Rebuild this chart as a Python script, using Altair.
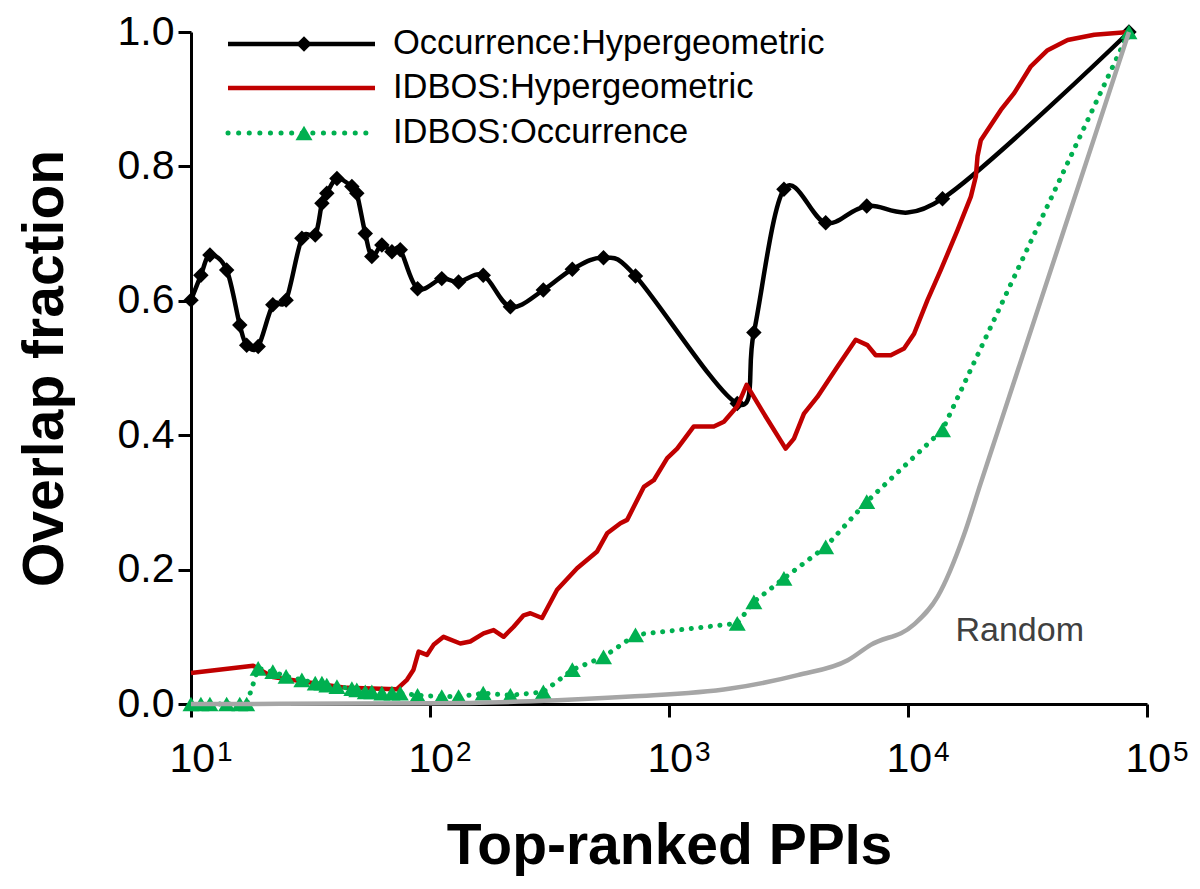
import altair as alt
import pandas as pd

# ---------------- text ----------------
series_names = ["Occurrence:Hypergeometric", "IDBOS:Hypergeometric", "IDBOS:Occurrence"]
random_label = "Random"
x_title = "Top-ranked PPIs"
y_title = "Overlap fraction"

# ---------------- data ----------------
# top-ranked PPIs sampled for the two marker series
top_k = [10, 11, 12, 14.1, 16, 17.1, 19.1, 22, 25, 29.1, 33.1, 35.3, 37, 40.8, 47.1,
         49.4, 53.6, 57.1, 62.9, 69.3, 75.1, 88.7, 112, 131.7, 167, 217, 298, 394,
         532, 724, 1930, 2265, 3026, 4524, 6719, 13944, 84050]
occ_hyper = [0.601, 0.638, 0.668, 0.646, 0.564, 0.534, 0.532, 0.594, 0.601, 0.693,
             0.698, 0.745, 0.760, 0.782, 0.770, 0.760, 0.700, 0.666, 0.683, 0.673,
             0.676, 0.618, 0.633, 0.628, 0.638, 0.591, 0.616, 0.647, 0.664, 0.637,
             0.447, 0.553, 0.766, 0.716, 0.741, 0.752, 1.0]
idbos_occ = [0, 0, 0, 0, 0, 0, 0.053, 0.048, 0.041, 0.036, 0.031, 0.031, 0.028,
             0.026, 0.023, 0.021, 0.018, 0.018, 0.016, 0.016, 0.016, 0.013, 0.011,
             0.011, 0.016, 0.013, 0.018, 0.051, 0.070, 0.103, 0.120, 0.152, 0.187,
             0.234, 0.301, 0.408, 1.0]

idbos_hyper_x = [10, 18.2, 22, 44.9, 72.7, 80.1, 85.3, 89.6, 97.1, 103.5, 114, 133.9,
                 147.4, 167.6, 184.6, 203.3, 223.9, 246.5, 263, 294.3, 340.2, 412.6,
                 500.4, 551, 626.4, 668.2, 784.5, 863.8, 983, 1082, 1270, 1540, 1697,
                 1931, 2112, 2495, 3076, 3333, 3670, 4176, 5065, 6042, 6763, 7328,
                 8470, 9627, 10603, 12064, 13717, 16114, 18324, 19222, 19537, 20167,
                 24463, 27810, 32668, 38374, 46545, 60140, 84050]
idbos_hyper_y = [0.046, 0.057, 0.040, 0.024, 0.022, 0.036, 0.051, 0.078, 0.073, 0.088,
                 0.100, 0.090, 0.093, 0.105, 0.110, 0.100, 0.115, 0.132, 0.135, 0.128,
                 0.170, 0.202, 0.227, 0.254, 0.269, 0.274, 0.323, 0.333, 0.366, 0.380,
                 0.413, 0.413, 0.420, 0.443, 0.475, 0.432, 0.380, 0.395, 0.432, 0.457,
                 0.502, 0.542, 0.534, 0.519, 0.519, 0.529, 0.551, 0.601, 0.646, 0.705,
                 0.755, 0.785, 0.815, 0.839, 0.884, 0.909, 0.949, 0.973, 0.988, 0.996,
                 1.0]

random_x = [10, 100, 263, 690, 1809, 3452, 5595, 6983, 10571, 13323, 17122, 20167,
            23766, 35975, 59980, 84050]
random_y = [0, 0.001, 0.004, 0.011, 0.023, 0.043, 0.065, 0.088, 0.118, 0.160, 0.251,
            0.329, 0.406, 0.601, 0.841, 1.0]

random_label_x = [15800]
random_label_y = [0.109]

tick_values = [10, 100, 1000, 10000, 100000]
tick_base = ["10", "10", "10", "10", "10"]
tick_exp = ["1", "2", "3", "4", "5"]
y_ticks = [0, 0.2, 0.4, 0.6, 0.8, 1.0]

# ---------------- style ----------------
FONT = "Liberation Sans"
BLACK = "#000000"
RED = "#C00000"
GREEN = "#00B050"
GRAY = "#A6A6A6"
W, H = 956, 672

xscale = alt.Scale(type="log", domain=[10, 100000], nice=False)
yscale = alt.Scale(domain=[0, 1], nice=False, zero=False)

xaxis = alt.Axis(values=tick_values, labels=False, title=x_title, grid=False,
                 domainColor=BLACK, domainWidth=3, tickColor=BLACK, tickWidth=3,
                 tickSize=13, titleFont=FONT, titleFontSize=57, titleFontWeight="bold",
                 titleColor=BLACK, titleX=W / 2, titleY=142, titleAlign="center",
                 titleBaseline="middle")
yaxis = alt.Axis(values=y_ticks, format=".1f", title=y_title, grid=False,
                 domainColor=BLACK, domainWidth=3, tickColor=BLACK, tickWidth=3,
                 tickSize=13, labelFont=FONT, labelFontSize=41, labelColor=BLACK,
                 labelPadding=4, labelFlush=False, labelOverlap=False,
                 titleFont=FONT, titleFontSize=57, titleFontWeight="bold",
                 titleColor=BLACK, titleAngle=270, titleX=-146, titleY=H / 2,
                 titleAlign="center", titleBaseline="middle")


def X(field):
    return alt.X(f"{field}:Q", scale=xscale, axis=xaxis)


def Y(field):
    return alt.Y(f"{field}:Q", scale=yscale, axis=yaxis)


df_occ = pd.DataFrame({"k": top_k, "occ_hyper": occ_hyper, "idbos_occ": idbos_occ})
df_red = pd.DataFrame({"k": idbos_hyper_x, "v": idbos_hyper_y})
df_rand = pd.DataFrame({"k": random_x, "v": random_y})
df_rlab = pd.DataFrame({"k": random_label_x, "v": random_label_y, "t": [random_label]})
df_ticks = pd.DataFrame({"v": tick_values, "base": tick_base, "exp": tick_exp})

black_line = alt.Chart(df_occ).mark_line(color=BLACK, strokeWidth=4.5,
                                         interpolate="cardinal").encode(
    x=X("k"), y=Y("occ_hyper"))
black_pts = alt.Chart(df_occ).mark_point(shape="diamond", filled=True, color=BLACK,
                                         size=240, opacity=1).encode(
    x=X("k"), y=Y("occ_hyper"))
red_line = alt.Chart(df_red).mark_line(color=RED, strokeWidth=4.5,
                                       strokeJoin="round").encode(
    x=X("k"), y=Y("v"))
green_line = alt.Chart(df_occ).mark_line(color=GREEN, strokeWidth=5,
                                         strokeDash=[0.1, 9.5],
                                         strokeCap="round").encode(
    x=X("k"), y=Y("idbos_occ"))
green_pts = alt.Chart(df_occ).mark_point(shape="triangle-up", filled=True,
                                         color=GREEN, size=290, opacity=1).encode(
    x=X("k"), y=Y("idbos_occ"))
gray_line = alt.Chart(df_rand).mark_line(color=GRAY, strokeWidth=4.5,
                                         interpolate="monotone").encode(
    x=X("k"), y=Y("v"))
rand_text = alt.Chart(df_rlab).mark_text(align="left", baseline="middle", font=FONT,
                                         fontSize=34, color="#404040").encode(
    x=X("k"), y=Y("v"), text="t:N")

tick_base_text = alt.Chart(df_ticks).mark_text(align="right", baseline="alphabetic",
                                               dx=24, font=FONT, fontSize=41,
                                               color=BLACK).encode(
    x=X("v"), y=alt.value(H + 68), text="base:N")
tick_exp_text = alt.Chart(df_ticks).mark_text(align="left", baseline="alphabetic",
                                              dx=26, font=FONT, fontSize=28,
                                              color=BLACK).encode(
    x=X("v"), y=alt.value(H + 57), text="exp:N")

# ---------------- legend (drawn by hand, top-left) ----------------
legend_rows = [12, 56, 101]
legend_styles = [
    dict(color=BLACK, dash=None, shape="diamond", size=240),
    dict(color=RED, dash=None, shape=None, size=0),
    dict(color=GREEN, dash=[0.1, 10.5], shape="triangle-up", size=290),
]
legend_layers = []
for name, ly, st in zip(series_names, legend_rows, legend_styles):
    src = pd.DataFrame({"s": [name]})
    rule_kw = dict(color=st["color"], strokeWidth=4.5 if st["dash"] is None else 5,
                   strokeCap="round" if st["dash"] is not None else "butt")
    if st["dash"] is not None:
        rule_kw["strokeDash"] = st["dash"]
    legend_layers.append(alt.Chart(src).mark_rule(**rule_kw).encode(
        x=alt.value(37), x2=alt.value(184), y=alt.value(ly)))
    if st["shape"] is not None:
        legend_layers.append(alt.Chart(src).mark_point(
            shape=st["shape"], filled=True, color=st["color"], size=st["size"],
            opacity=1).encode(x=alt.value(113), y=alt.value(ly)))
    legend_layers.append(alt.Chart(src).mark_text(
        align="left", baseline="middle", font=FONT, fontSize=34.5, color=BLACK).encode(
        x=alt.value(202), y=alt.value(ly), text="s:N"))

chart = alt.layer(
    black_line, black_pts, red_line, green_line, green_pts, gray_line, rand_text,
    tick_base_text, tick_exp_text, *legend_layers
).properties(
    width=W, height=H,
    padding={"left": 183, "top": 24, "right": 45, "bottom": 175},
    autosize=alt.AutoSizeParams(type="none"),
    background="white",
).configure_view(stroke=None)

chart.save("out.html", embed_options={"renderer": "svg", "actions": False})
